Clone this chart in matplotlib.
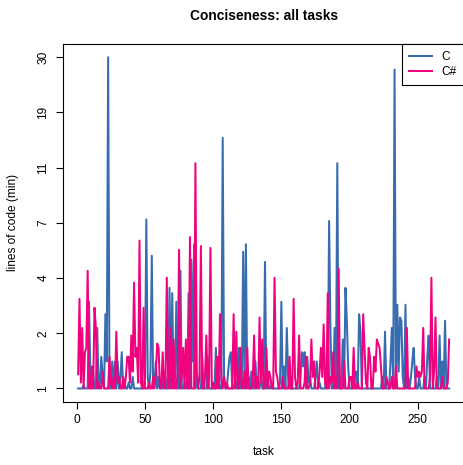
import numpy as np
import matplotlib
matplotlib.use('Agg')
import matplotlib.pyplot as plt

plt.rcParams['font.family'] = ['Liberation Sans', 'DejaVu Sans']

# lines of code relative to the shortest solution of each task
c_vals = [
    1, 1, 1, 1, 1.05, 1, 1, 1, 3.1, 1.2,
    1, 1.3, 1, 1, 2.3, 1, 1.1, 1.6, 1.2, 1,
    2.7, 1.5, 30, 1, 1, 1.5, 1, 1.5, 1, 1.5,
    1, 1.2, 1.7, 1, 1.1, 1, 1, 1.1, 1, 1,
    1.2, 1, 1, 1, 1, 1, 1, 1, 1, 1.2,
    7.1, 1.2, 1, 1.3, 5.0, 1, 1.1, 1.5, 1, 1.2,
    1, 1.1, 1, 1.3, 1.2, 1, 1, 3.6, 1, 3.4,
    1, 1.2, 3.1, 1, 1, 4.3, 1, 1, 1.1, 1,
    1.2, 3.4, 1, 4.8, 1.5, 5.6, 1, 1.2, 1, 1,
    1, 1.6, 1, 1, 1, 1.6, 1, 1, 1, 1,
    1, 1.8, 1, 1.1, 1, 1, 14.9, 1.2, 1, 1,
    1.3, 1.6, 1.7, 1, 1, 1.1, 1, 1.2, 1.8, 1,
    1.1, 5.2, 1, 5.6, 1, 1.2, 1, 1.3, 1, 1,
    1.5, 1, 1.1, 1, 1.2, 1, 1, 4.7, 1, 1.2,
    1, 1, 1.1, 1, 1, 1, 1, 1, 1.1, 3.1,
    1, 1.4, 1, 2.3, 1.2, 1, 1, 1, 1, 1,
    1, 1, 1, 1.2, 1.7, 1.4, 1.7, 1, 1.6, 1.1,
    1.2, 1, 1, 1, 1.2, 1.5, 1, 1.1, 1, 1,
    1, 1, 1.2, 1, 7.0, 2.2, 1, 1, 2.3, 1,
    11.9, 1, 1.2, 1, 2.0, 1, 3.6, 2.5, 1.4, 1,
    1, 1, 1, 1.3, 1.3, 1, 2.7, 2.2, 1, 1,
    1, 1, 1, 1, 1, 1, 1, 1, 1, 1,
    1, 1, 1, 1.2, 1, 2.2, 1, 1, 1, 1.5,
    2.3, 1, 27, 1, 3.0, 1.3, 2.6, 2.5, 1.2, 1,
    3.0, 1, 1.2, 1, 1.2, 1.5, 1.8, 1.2, 1, 1,
    1.2, 1, 1, 1, 1.2, 1, 1.6, 2.1, 1, 1,
    1, 1, 1, 1.2, 1, 2.1, 1, 1.5, 1, 2.5,
    1, 1, 1,
]
cs_vals = [
    1.25, 3.2, 1.1, 2.3, 1, 1.7, 1.8, 4.3, 1, 1,
    1.4, 1, 2.9, 2.3, 1, 1.1, 1, 1, 1.3, 1,
    1, 1, 1, 1.6, 1.1, 1, 1.2, 1, 2.2, 1.1,
    1.2, 1, 1, 1.2, 1, 1.2, 1.6, 1.6, 1.1, 2.1,
    1.3, 3.8, 1.6, 1.8, 1.1, 5.8, 1.1, 1, 2.9, 1,
    1, 1, 1.1, 1, 1, 1.2, 1, 1.3, 1.9, 1.8,
    1, 1, 1.7, 1, 1, 4.0, 1.1, 1, 2.3, 1,
    2.0, 1, 1, 1.3, 5.3, 1, 1.2, 1.8, 1, 2.0,
    1, 1, 6.0, 1, 1, 1, 11.9, 1.3, 1, 1.2,
    5.5, 1, 1, 1.2, 2.1, 1, 1.2, 5.4, 1, 1.1,
    1, 1, 1.6, 1, 2.7, 1.2, 1, 1.2, 1, 1.1,
    1, 1, 1, 1, 2.7, 1, 2.2, 1, 1, 1.8,
    1, 1, 1.3, 1, 1.8, 1, 1, 1, 1.1, 2.1,
    1, 1.2, 1, 2.6, 1.1, 2.0, 1, 1, 1.8, 1,
    1.3, 1.2, 1, 1, 4.0, 1.3, 1.2, 1, 1, 1,
    1.2, 1, 1, 1, 1, 1.6, 1, 1, 3.2, 1.2,
    1, 1.1, 2.1, 1, 1, 1, 1.1, 1.6, 1, 1,
    1.1, 2.0, 1.2, 1.5, 1, 1, 1, 1.3, 1.8, 1.2,
    2.4, 1.1, 1, 3.4, 1, 1.2, 1.1, 1.7, 1, 1.2,
    1, 4.4, 1, 1, 1, 1.5, 1, 1, 1, 1.2,
    1.2, 1, 1.8, 1, 1, 1.1, 1, 1, 1, 2.7,
    1.8, 1.1, 1, 1.8, 1.6, 1, 1, 1.6, 1.3, 2.0,
    1.9, 1.8, 1.4, 1, 1, 1, 1.2, 1.1, 1, 1,
    1.2, 1, 1, 1.4, 1, 1, 1, 1, 1, 1,
    1, 2.3, 1, 1, 1, 1, 1, 1, 1.4, 1.2,
    1.3, 1.2, 1.3, 2.3, 1, 1, 1, 1, 1.2, 4.0,
    1, 1.3, 2.6, 1, 1, 1, 1, 1.2, 1, 1,
    1, 1.1, 2.0,
]
tick_labels = ['1', '2', '4', '7', '11', '19', '30']

tasks = np.arange(1, len(c_vals) + 1)

fig = plt.figure(figsize=(4.63, 4.65), dpi=100)
ax = fig.add_axes([0.1367, 0.1361, 0.8654, 0.7692])

# y axis is log(x+1), ticks evenly spaced between 1 and 30
ax.set_yscale('function', functions=(np.log1p, np.expm1))

ax.plot(tasks, c_vals, color='#386cb0', lw=1.45, label='C')
ax.plot(tasks, cs_vals, color='#f0027f', lw=1.45, label='C#')

# R-style 4% padding
n = len(tasks)
ax.set_xlim(1 - 0.04 * (n - 1), n + 0.04 * (n - 1))
lo, hi = np.log(2), np.log(31)
pad = 0.04 * (hi - lo)
ax.set_ylim(np.expm1(lo - pad), np.expm1(hi + pad))

ax.set_xticks([0, 50, 100, 150, 200, 250])
ax.set_yticks(np.expm1(np.linspace(lo, hi, 7)))
ax.set_yticklabels(tick_labels, rotation=90, va='center')
ax.minorticks_off()
ax.tick_params(direction='out', length=5, width=0.8, labelsize=8.6, pad=4)
ax.tick_params(axis='y', pad=5)

for s in ax.spines.values():
    s.set_linewidth(0.8)

ax.set_xlabel('task', fontsize=8.6)
ax.set_ylabel('lines of code (min)', fontsize=8.6)
ax.xaxis.set_label_coords(0.5, -0.14)
ax.xaxis.label.set_va('center')
ax.yaxis.set_label_coords(-0.125, 0.5)
ax.yaxis.label.set_va('center')

ax.set_title('Conciseness: all tasks', fontsize=9.9, fontweight='bold', pad=17)

leg = ax.legend(loc='upper right', borderaxespad=0, fancybox=False,
                edgecolor='black', framealpha=1, fontsize=8.6,
                handlelength=1.95, borderpad=0.6, labelspacing=0.25)
leg.get_frame().set_linewidth(0.8)

fig.savefig('out.png', dpi=100)
